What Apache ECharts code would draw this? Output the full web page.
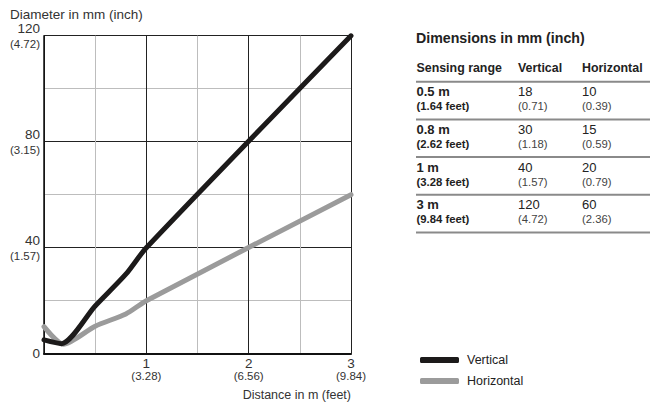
<!DOCTYPE html>
<html><head><meta charset="utf-8">
<script src="https://cdn.jsdelivr.net/npm/echarts@6/dist/echarts.min.js"></script>
<style>html,body{margin:0;padding:0;background:#fff}#c{width:650px;height:408px}</style>
</head><body><div id="c"></div>
<script>
// ---- data ----
const verticalData = [[0,5.2],[0.17,3.8],[0.5,18],[0.8,30],[1,40],[3,120]];
const horizontalData = [[0,10.2],[0.19,3.6],[0.5,10.4],[0.8,15],[1,20],[3,60]];
const yTickLabels = {0:'0',40:'40',80:'80',120:'120'};
const yTickInch = {40:'(1.57)',80:'(3.15)',120:'(4.72)'};
const xTickLabels = {1:'1',2:'2',3:'3'};
const xTickFeet = {1:'(3.28)',2:'(6.56)',3:'(9.84)'};
const yAxisName = 'Diameter in mm (inch)';
const xAxisName = 'Distance in m (feet)';
const tableTitle = 'Dimensions in mm (inch)';
const tableHeaders = ['Sensing range','Vertical','Horizontal'];
const rangeM = ['0.5 m','0.8 m','1 m','3 m'];
const rangeFt = ['(1.64 feet)','(2.62 feet)','(3.28 feet)','(9.84 feet)'];
const vertMm = ['18','30','40','120'];
const vertIn = ['(0.71)','(1.18)','(1.57)','(4.72)'];
const horMm = ['10','15','20','60'];
const horIn = ['(0.39)','(0.59)','(0.79)','(2.36)'];

const FF = "'Liberation Sans', Arial, sans-serif";
const TXT = '#222';

// ---- table graphics ----
const g = [];
function txt(x, y, s, font, fill) {
  g.push({type:'text', x:x, y:y, silent:true,
    style:{text:s, font:font, fill:fill||TXT, textVerticalAlign:'middle', verticalAlign:'middle', textAlign:'left', align:'left'}});
}
function hline(y) {
  g.push({type:'line', silent:true, shape:{x1:416, y1:y, x2:650, y2:y}, style:{stroke:'#8a8a8a', lineWidth:2}});
}
txt(10, 14, yAxisName, '13.5px ' + FF, '#333');
g.push({type:'text', x:351, y:395, silent:true,
  style:{text:xAxisName, font:'12.5px ' + FF, fill:'#333', textVerticalAlign:'middle', verticalAlign:'middle', textAlign:'right', align:'right'}});
txt(416, 38, tableTitle, 'bold 14.2px ' + FF);
const colX = [416.5, 518, 582];
tableHeaders.forEach((h, i) => txt(colX[i], 68, h, 'bold 12.4px ' + FF));
hline(81.7);
const rowTop = [81.7, 119.4, 157.1, 194.8];
rangeM.forEach((r, i) => {
  const t = rowTop[i];
  txt(colX[0], t + 10, rangeM[i], 'bold 13px ' + FF);
  txt(colX[0], t + 24.5, rangeFt[i], 'bold 11.3px ' + FF);
  txt(colX[1], t + 10, vertMm[i], '13px ' + FF);
  txt(colX[1], t + 24.5, vertIn[i], '11.3px ' + FF, '#444');
  txt(colX[2], t + 10, horMm[i], '13px ' + FF);
  txt(colX[2], t + 24.5, horIn[i], '11.3px ' + FF, '#444');
  hline(t + 37.7);
});

const chart = echarts.init(document.getElementById('c'), null, {renderer:'svg'});
chart.setOption({
  animation:false,
  backgroundColor:'#fff',
  textStyle:{fontFamily:FF},
  grid:{left:44, right:299, top:35.7, bottom:54.3, containLabel:false},
  legend:{
    orient:'vertical', left:415, top:348, itemWidth:39, itemHeight:6, itemGap:7,
    icon:'roundRect',
    textStyle:{fontSize:12.5, color:TXT, lineHeight:14, padding:[0,0,0,3], fontFamily:FF},
    data:['Vertical','Horizontal']
  },
  xAxis:{
    type:'value', min:0, max:3, interval:0.5,
    axisLine:{show:true, onZero:false, lineStyle:{color:'#111', width:2}},
    axisTick:{show:false},
    splitLine:{show:true, lineStyle:{color:['#222','#bdbdbd'], width:1}},
    axisLabel:{
      margin:3, color:'#333',
      formatter:v => xTickLabels[v] ? '{a|' + xTickLabels[v] + '}\n{b|' + xTickFeet[v] + '}' : '',
      rich:{a:{fontSize:13.5, lineHeight:13, align:'center', fontFamily:FF, color:'#333'},
            b:{fontSize:11.5, lineHeight:13, align:'center', fontFamily:FF, color:'#333'}}
    }
  },
  yAxis:{
    type:'value', min:0, max:120, interval:20,
    axisLine:{show:true, lineStyle:{color:'#111', width:1.5}},
    axisTick:{show:false},
    splitLine:{show:true, lineStyle:{color:['#222','#bdbdbd'], width:1}},
    axisLabel:{
      margin:4, color:'#333',
      formatter:v => {
        if (yTickLabels[v] === undefined) return '';
        if (!yTickInch[v]) return '{a|' + yTickLabels[v] + '}';
        return '{a|' + yTickLabels[v] + '}\n{b|' + yTickInch[v] + '}';
      },
      rich:{a:{fontSize:13.5, lineHeight:16, align:'right', fontFamily:FF, color:'#333'},
            b:{fontSize:11.5, lineHeight:15, align:'right', fontFamily:FF, color:'#333'}}
    }
  },
  series:[
    {name:'Vertical', type:'line', data:verticalData, showSymbol:false, symbol:'none', smooth:0.25,
     color:'#1c1a1a', lineStyle:{width:5, color:'#1c1a1a', cap:'round', join:'round'}, z:3},
    {name:'Horizontal', type:'line', data:horizontalData, showSymbol:false, symbol:'none', smooth:0.25,
     color:'#9b9b9b', lineStyle:{width:5, color:'#9b9b9b', cap:'round', join:'round'}, z:2}
  ],
  graphic:g
});
</script></body></html>
